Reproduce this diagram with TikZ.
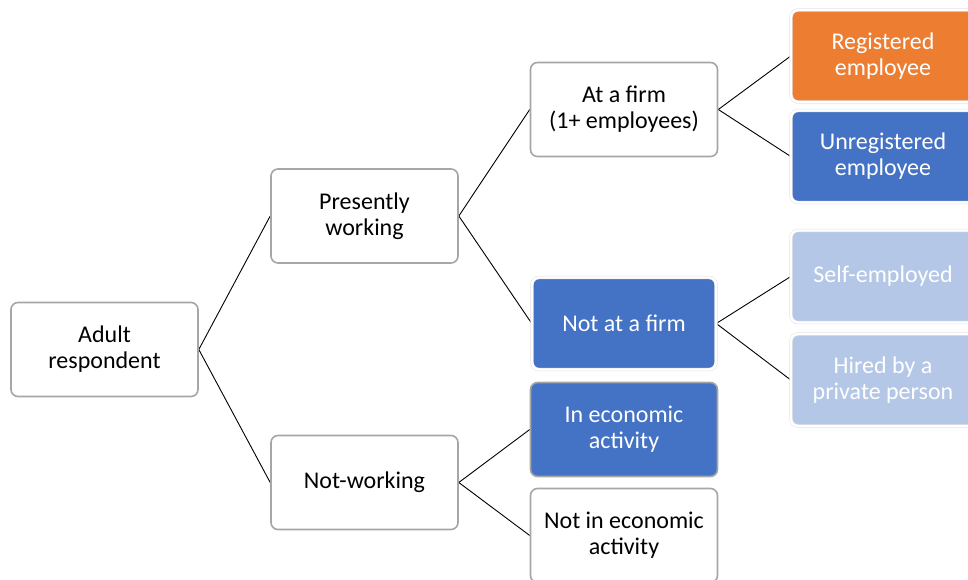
\documentclass[tikz,border=0pt]{standalone}
\usepackage{fontspec}
\setmainfont{Carlito}
\usepackage{tikz}
\pgfdeclarelayer{bg}
\pgfsetlayers{bg,main}
\definecolor{boxgray}{HTML}{A6A6A6}
\definecolor{boxorange}{HTML}{ED7D31}
\definecolor{boxblue}{HTML}{4472C4}
\definecolor{boxpale}{HTML}{B4C7E7}
\tikzset{
    every node/.style={rectangle, rounded corners=7pt, align=center, inner sep=0pt,
        minimum width=187pt, minimum height=94pt, font=\fontsize{24}{26}\selectfont}
}
\tikzset{plainbox/.style={draw=boxgray, line width=1.6pt, fill=white, text=black}}
\tikzset{colorbox/.style={draw=black!12, double=white, double distance=2.4pt, line width=0.5pt, fill=#1, text=white}}

\begin{document}
\begin{tikzpicture}
        \useasboundingbox (0pt, 0pt) rectangle (968pt, -580pt);
        \clip (0pt, 0pt) rectangle (968pt, -580pt);
        \node (adult) [plainbox] at (104.5pt, -349.5pt) {Adult\\respondent};
        \node (work) [plainbox] at (364.5pt, -216pt) {Presently\\working};
        \node (nowork) [plainbox] at (364.5pt, -482.5pt) {Not-working};
        \node (firm) [plainbox] at (624pt, -109.5pt) {At a firm\\(1+ employees)};
        \node (nofirm) [colorbox=boxblue, minimum width=184pt, minimum height=92pt] at (624pt, -323.5pt) {Not at a firm};
        \node (econ) [plainbox, fill=boxblue, text=white] at (624pt, -429.5pt) {In economic\\activity};
        \node (noecon) [plainbox] at (624pt, -535.5pt) {Not in economic\\activity};
        \node (reg) [colorbox=boxorange, minimum width=184pt, minimum height=92pt] at (883pt, -56pt) {Registered\\employee};
        \node (unreg) [colorbox=boxblue, minimum width=184pt, minimum height=92pt] at (883pt, -156.5pt) {Unregistered\\employee};
        \node (self) [colorbox=boxpale, minimum width=184pt, minimum height=92pt] at (883pt, -276.5pt) {Self-employed};
        \node (hired) [colorbox=boxpale, minimum width=184pt, minimum height=92pt] at (883pt, -380pt) {Hired by a\\private person};
        \begin{pgfonlayer}{bg}
                \draw (adult.east) edge [line width=0.9pt] (work.west);
                \draw (adult.east) edge [line width=0.9pt] (nowork.west);
                \draw (work.east) edge [line width=0.9pt] (firm.west);
                \draw (work.east) edge [line width=0.9pt] (nofirm.west);
                \draw (nowork.east) edge [line width=0.9pt] (econ.west);
                \draw (nowork.east) edge [line width=0.9pt] (noecon.west);
                \draw (firm.east) edge [line width=0.9pt] (reg.west);
                \draw (firm.east) edge [line width=0.9pt] (unreg.west);
                \draw (nofirm.east) edge [line width=0.9pt] (self.west);
                \draw (nofirm.east) edge [line width=0.9pt] (hired.west);
        \end{pgfonlayer}
\end{tikzpicture}
\end{document}
